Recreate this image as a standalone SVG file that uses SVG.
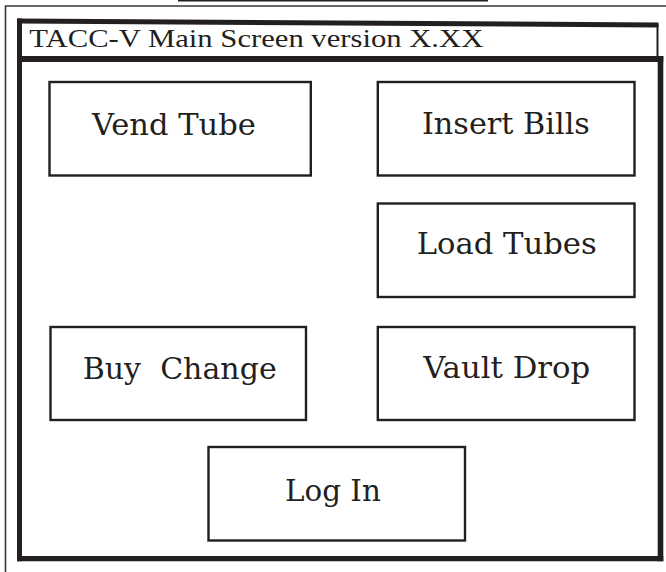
<svg xmlns="http://www.w3.org/2000/svg" width="666" height="572" viewBox="0 0 666 572">
<style>
.thin{fill:none;stroke:#3a3637;stroke-width:1.6}
.frame{fill:none;stroke:#231f20;stroke-linecap:butt}
.btn{fill:#ffffff;stroke:#231f20;stroke-width:2.4}
.lbl{font-family:"DejaVu Serif","Liberation Serif",serif;font-size:29px;fill:#231f20;text-anchor:middle}
.title{font-family:"Liberation Serif","DejaVu Serif",serif;font-size:25px;fill:#231f20}
</style>
<rect width="666" height="572" fill="#ffffff"/>
<g id="top-line">
<line x1="178" y1="0.6" x2="488" y2="0.6" stroke="#231f20" stroke-width="2"/>
</g>
<g id="outer">
<path class="thin" d="M5.5 572 V6 H666"/>
</g>
<g id="title-bar">
<line class="frame" x1="17" y1="21" x2="658.5" y2="25" stroke-width="5"/>
<line class="frame" x1="657.5" y1="24" x2="657.5" y2="57" stroke-width="2"/>
<text class="title" x="29.3" y="46.5" textLength="454" lengthAdjust="spacingAndGlyphs">TACC-V Main Screen version X.XX</text>
</g>
<g id="main-frame">
<line class="frame" x1="19.5" y1="18.5" x2="19.5" y2="561.3" stroke-width="5"/>
<line class="frame" x1="17" y1="59" x2="663.3" y2="59" stroke-width="6"/>
<line class="frame" x1="660.5" y1="56" x2="660.5" y2="561.3" stroke-width="5.6"/>
<line class="frame" x1="17" y1="558.7" x2="663.3" y2="558.7" stroke-width="5.2"/>
</g>
<g id="vend-tube">
<rect class="btn" x="49.5" y="82" width="261.3" height="93.5"/>
<text class="lbl" x="173.9" y="135" textLength="164" lengthAdjust="spacingAndGlyphs">Vend Tube</text>
</g>
<g id="insert-bills">
<rect class="btn" x="377.8" y="82" width="256.7" height="93.5"/>
<text class="lbl" x="505.9" y="134" textLength="168" lengthAdjust="spacingAndGlyphs">Insert Bills</text>
</g>
<g id="load-tubes">
<rect class="btn" x="377.8" y="203.5" width="256.7" height="93.5"/>
<text class="lbl" x="506.7" y="254" textLength="180" lengthAdjust="spacingAndGlyphs">Load Tubes</text>
</g>
<g id="buy-change">
<rect class="btn" x="50.5" y="327" width="255.5" height="93"/>
<text class="lbl" x="179.7" y="379" textLength="194" lengthAdjust="spacingAndGlyphs" xml:space="preserve">Buy  Change</text>
</g>
<g id="vault-drop">
<rect class="btn" x="377.8" y="327" width="256.7" height="93"/>
<text class="lbl" x="506.7" y="377.7" textLength="167" lengthAdjust="spacingAndGlyphs">Vault Drop</text>
</g>
<g id="log-in">
<rect class="btn" x="208.5" y="447" width="256.5" height="93.5"/>
<text class="lbl" x="332.9" y="501" textLength="96" lengthAdjust="spacingAndGlyphs">Log In</text>
</g>
<g id="connectors"></g>
</svg>
